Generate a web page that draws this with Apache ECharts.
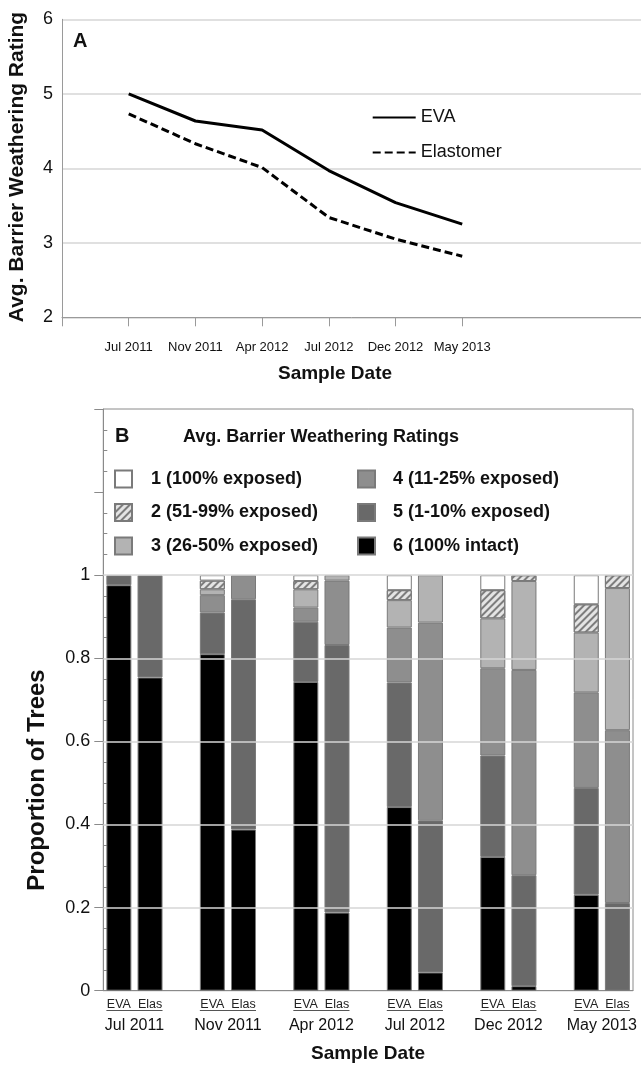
<!DOCTYPE html>
<html>
<head>
<meta charset="utf-8">
<script src="https://cdn.jsdelivr.net/npm/echarts@6/dist/echarts.min.js"></script>
<style>html,body{margin:0;padding:0;background:#fff}#c{width:641px;height:1068px}</style>
</head>
<body>
<div id="c"></div>
<script>
// ---------- Panel A data ----------
var datesA = ['Jul 2011', 'Nov 2011', 'Apr 2012', 'Jul 2012', 'Dec 2012', 'May 2013'];
var evaRating = [5.0, 4.635, 4.515, 3.97, 3.54, 3.25];
var elastomerRating = [4.73, 4.33, 4.01, 3.34, 3.05, 2.82];
var yTicksA = [2, 3, 4, 5, 6];

// ---------- Panel B data (per date: EVA, Elas) ----------
var datesB = ['Jul 2011', 'Nov 2011', 'Apr 2012', 'Jul 2012', 'Dec 2012', 'May 2013'];
var barTypes = ['EVA', 'Elas'];
var ratingNames = ['1 (100% exposed)', '2 (51-99% exposed)', '3 (26-50% exposed)',
                   '4 (11-25% exposed)', '5 (1-10% exposed)', '6 (100% intact)'];
var rating6 = [0.976, 0.754, 0.81, 0.388, 0.743, 0.188, 0.442, 0.044, 0.322, 0.011, 0.231, 0.0];
var rating5 = [0.024, 0.246, 0.10, 0.554, 0.145, 0.644, 0.30, 0.366, 0.244, 0.267, 0.257, 0.211];
var rating4 = [0.0, 0.0, 0.042, 0.058, 0.034, 0.155, 0.132, 0.476, 0.21, 0.494, 0.23, 0.416];
var rating3 = [0.0, 0.0, 0.014, 0.0, 0.044, 0.013, 0.066, 0.114, 0.12, 0.214, 0.144, 0.342];
var rating2 = [0.0, 0.0, 0.021, 0.0, 0.02, 0.0, 0.024, 0.0, 0.068, 0.014, 0.068, 0.031];
var rating1 = [0.0, 0.0, 0.013, 0.0, 0.014, 0.0, 0.036, 0.0, 0.036, 0.0, 0.07, 0.0];
var yTicksB = [0, 0.2, 0.4, 0.6, 0.8, 1];

var FONT = "'Liberation Sans', Arial, sans-serif";

// build 17-slot category layout: EVA, Elas, gap, ...
var slots = [];
var slotIndexOf = []; // bar index -> slot index
datesB.forEach(function (d, p) {
  barTypes.forEach(function (t, k) { slotIndexOf.push(slots.length); slots.push(t); });
  if (p < datesB.length - 1) slots.push('');
});
function toSlots(arr) {
  var out = slots.map(function () { return '-'; });
  arr.forEach(function (v, i) { out[slotIndexOf[i]] = v > 0 ? v : '-'; });
  return out;
}
var pairCenters = datesB.map(function (d, p) { return slotIndexOf[2 * p] + 1; });

var ratingData = [rating1, rating2, rating3, rating4, rating5, rating6];
var ratingColors = ['#ffffff', '#e4e4e4', '#b3b3b3', '#8e8e8e', '#696969', '#000000'];

var barSeries = [];
for (var r = 5; r >= 0; r--) {
  var st = { color: ratingColors[r], borderColor: '#7a7a7a', borderWidth: 1 };
  if (r === 1) {
    st.decal = { symbol: 'rect', symbolSize: 1, color: '#7d7d7d',
      dashArrayX: [1, 0], dashArrayY: [1.2, 2.2], rotation: -Math.PI / 4 };
  }
  barSeries.push({
    name: ratingNames[r], type: 'bar', stack: 'b', xAxisIndex: 1, yAxisIndex: 1,
    barWidth: 25, data: toSlots(ratingData[r]), itemStyle: st, z: 3
  });
}

var chart = echarts.init(document.getElementById('c'), null, { renderer: 'canvas' });

function buildOption(graphics) {
  return {
    animation: false,
    backgroundColor: '#fff',
    textStyle: { fontFamily: FONT },
    grid: [
      { left: 62, top: 19.3, width: 580, height: 298 },
      { left: 103.3, top: 409, width: 529.7, height: 581.7, show: true,
        borderColor: '#8a8a8a', borderWidth: 1, backgroundColor: 'transparent' }
    ],
    xAxis: [
      { type: 'value', gridIndex: 0, min: 0, max: 8.68,
        axisLine: { lineStyle: { color: '#9a9a9a', width: 1 } },
        axisTick: { show: true, length: 9, customValues: [0, 1, 2, 3, 4, 5, 6],
          lineStyle: { color: '#9a9a9a' } },
        axisLabel: { customValues: [1, 2, 3, 4, 5, 6], margin: 24, fontSize: 13,
          color: '#111', fontFamily: FONT,
          formatter: function (v) { return datesA[Math.round(v) - 1] || ''; } },
        splitLine: { show: false } },
      { type: 'category', gridIndex: 1, data: slots, boundaryGap: true,
        axisLine: { lineStyle: { color: '#8a8a8a' } },
        axisTick: { show: false },
        axisLabel: { interval: 0, fontSize: 12.5, margin: 7, color: '#222', fontFamily: FONT } },
      { type: 'value', gridIndex: 1, min: 0, max: slots.length, position: 'bottom',
        axisLine: { show: false }, axisTick: { show: false }, splitLine: { show: false },
        axisLabel: { customValues: pairCenters, margin: 27, fontSize: 16, color: '#111',
          fontFamily: FONT,
          formatter: function (v) { return datesB[pairCenters.indexOf(Math.round(v))] || ''; } } }
    ],
    yAxis: [
      { type: 'value', gridIndex: 0, min: 2, max: 6, interval: 1,
        axisLine: { show: true, lineStyle: { color: '#9a9a9a' } },
        axisTick: { show: false },
        axisLabel: { fontSize: 18, margin: 9, color: '#111', fontFamily: FONT },
        splitLine: { show: true, lineStyle: { color: '#d6d6d6', width: 1.5 } } },
      { type: 'value', gridIndex: 1, min: 0, max: 1.4, interval: 0.2, position: 'left',
        axisLine: { show: true, lineStyle: { color: '#8a8a8a' } },
        axisTick: { show: true, length: 9, lineStyle: { color: '#8a8a8a' } },
        axisLabel: { fontSize: 18, margin: 13, color: '#111', fontFamily: FONT,
          formatter: function (v) {
            var i = yTicksB.findIndex(function (t) { return Math.abs(t - v) < 1e-6; });
            return i >= 0 ? String(yTicksB[i]) : '';
          } },
        splitLine: { show: false } },
      { type: 'value', gridIndex: 1, min: 0, max: 1.4, interval: 0.2, position: 'left', offset: 0,
        axisLine: { show: false },
        axisTick: { show: false, inside: true },
        minorTick: { show: true, splitNumber: 4, length: 4, lineStyle: { color: '#8a8a8a' } },
        axisLabel: { show: false }, splitLine: { show: false } }
    ],
    legend: [
      { data: ['EVA', 'Elastomer'], orient: 'vertical', left: 371.7, top: 108.5,
        itemWidth: 43, itemHeight: 14, itemGap: 17, padding: 0, selectedMode: false,
        itemStyle: { opacity: 0 },
        textStyle: { fontSize: 18, color: '#111', fontFamily: FONT } },
      { data: ratingNames.slice(0, 3), orient: 'vertical', left: 114, top: 469.5,
        icon: 'rect', itemWidth: 17, itemHeight: 17, itemGap: 14.5, padding: 0, selectedMode: false,
        textStyle: { fontSize: 18, fontWeight: 'bold', color: '#111', fontFamily: FONT,
          lineHeight: 18, padding: [0, 0, 0, 14] } },
      { data: ratingNames.slice(3, 6), orient: 'vertical', left: 357, top: 469.5,
        icon: 'rect', itemWidth: 17, itemHeight: 17, itemGap: 14.5, padding: 0, selectedMode: false,
        textStyle: { fontSize: 18, fontWeight: 'bold', color: '#111', fontFamily: FONT,
          lineHeight: 18, padding: [0, 0, 0, 13] } }
    ],
    series: [
      { name: 'EVA', type: 'line', xAxisIndex: 0, yAxisIndex: 0, symbol: 'none', showSymbol: false,
        data: evaRating.map(function (v, i) { return [i + 1, v]; }),
        lineStyle: { color: '#000', width: 3 }, itemStyle: { color: '#000' } },
      { name: 'Elastomer', type: 'line', xAxisIndex: 0, yAxisIndex: 0, symbol: 'none', showSymbol: false,
        data: elastomerRating.map(function (v, i) { return [i + 1, v]; }),
        lineStyle: { color: '#000', width: 3, type: [8, 4] }, itemStyle: { color: '#000' } },
      { name: 'grid', type: 'line', xAxisIndex: 1, yAxisIndex: 1, data: [], z: 1, silent: true,
        markLine: { silent: true, symbol: 'none', animation: false, label: { show: false },
          lineStyle: { color: '#d6d6d6', width: 1.5, type: 'solid' },
          data: [0.2, 0.4, 0.6, 0.8, 1].map(function (v) { return { yAxis: v }; }) } }
    ].concat(barSeries),
    graphic: graphics || []
  };
}

function txt(str, x, y, font, align, rot) {
  return { type: 'text', x: x, y: y, rotation: rot || 0, silent: true,
    style: { text: str, font: font, fill: '#111', textAlign: align || 'center',
      textVerticalAlign: 'middle', align: align || 'center', verticalAlign: 'middle' } };
}

chart.setOption(buildOption([]));

var g = [
  txt('A', 73, 41, 'bold 20px ' + FONT, 'left'),
  txt('Avg. Barrier Weathering Rating', 17.5, 167, 'bold 21px ' + FONT, 'center', Math.PI / 2),
  txt('Sample Date', 335, 373.5, 'bold 19px ' + FONT, 'center'),
  txt('B', 115, 436.7, 'bold 20px ' + FONT, 'left'),
  txt('Avg. Barrier Weathering Ratings', 183, 437, 'bold 18px ' + FONT, 'left'),
  txt('Proportion of Trees', 37, 780, 'bold 24px ' + FONT, 'center', Math.PI / 2),
  txt('Sample Date', 368, 1054, 'bold 19px ' + FONT, 'center')
];
// underline under each "EVA Elas" pair
datesB.forEach(function (d, p) {
  var x1 = chart.convertToPixel({ xAxisIndex: 1 }, slotIndexOf[2 * p]);
  var x2 = chart.convertToPixel({ xAxisIndex: 1 }, slotIndexOf[2 * p + 1]);
  g.push({ type: 'line', silent: true,
    shape: { x1: x1 - 12.5, y1: 1010.5, x2: x2 + 12.5, y2: 1010.5 },
    style: { stroke: '#555', lineWidth: 1 } });
});
chart.setOption(buildOption(g));
</script>
</body>
</html>
